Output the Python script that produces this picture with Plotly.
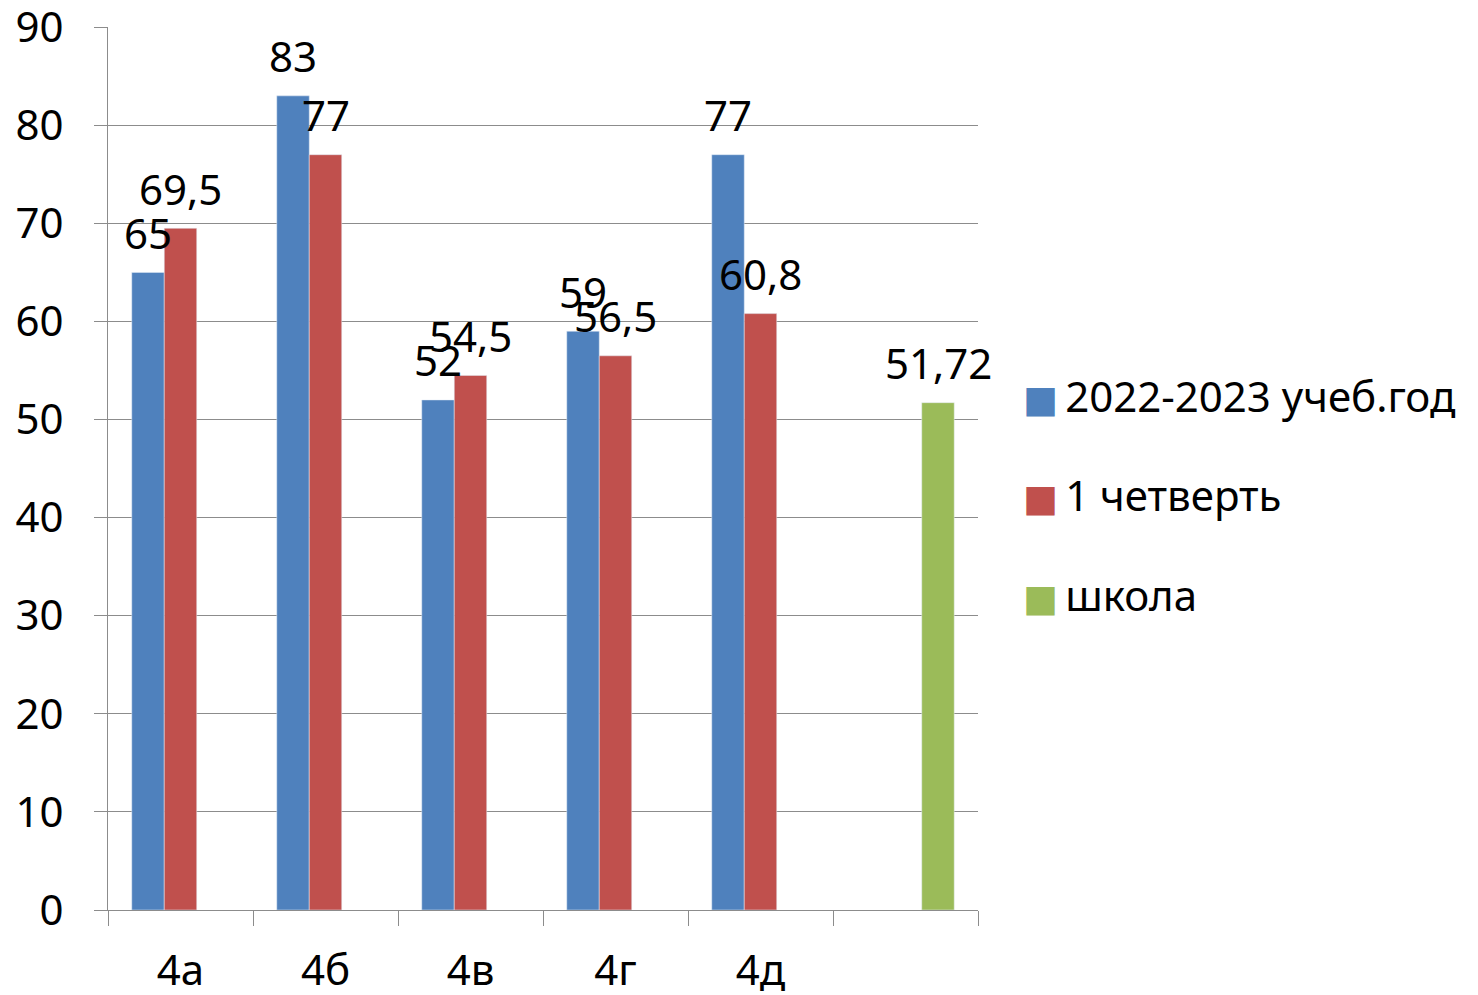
import plotly.graph_objects as go

categories = ["4а", "4б", "4в", "4г", "4д", " "]
series_names = ["2022-2023 учеб.год", "1 четверть", "школа"]
year_values = [65, 83, 52, 59, 77, None]
quarter_values = [69.5, 77, 54.5, 56.5, 60.8, None]
school_values = [None, None, None, None, None, 51.72]
colors = ["#4F81BD", "#C0504D", "#9BBB59"]
y_ticks = [0, 10, 20, 30, 40, 50, 60, 70, 80, 90]

FONT = "Noto Sans"
FS = 42

def fmt(v):
    s = f"{v:g}"
    return s.replace(".", ",")

fig = go.Figure()
all_series = [year_values, quarter_values, school_values]
for name, vals, col in zip(series_names, all_series, colors):
    fig.add_trace(go.Bar(x=categories, y=vals, name=name, marker_color=col,
                         showlegend=False, hoverinfo="skip"))

# legend entries: swatch drawn as a coloured square glyph in the label
for i, (name, col) in enumerate(zip(series_names, colors)):
    label = (f"<span style='font-family:DejaVu Sans;font-size:37px;color:{col}'>■</span>"
             f"\u2009{name}")
    fig.add_trace(go.Scatter(x=[None], y=[None], mode="markers", name=label,
                             legendgroup=f"g{i}",
                             marker=dict(size=1, color="rgba(0,0,0,0)")))

# data labels
shifts = [-32.5, 0, 32.5]
annotations = []
for vals, xs in zip(all_series, shifts):
    for c, v in zip(categories, vals):
        if v is None:
            continue
        annotations.append(dict(x=c, y=v, text=fmt(v), showarrow=False,
                                xref="x", yref="y", xshift=xs, yshift=40,
                                yanchor="middle", xanchor="center",
                                font=dict(family=FONT, size=FS, color="#000000")))

fig.update_layout(
    width=1478, height=995,
    margin=dict(l=100, r=508, t=19, b=93, autoexpand=False),
    paper_bgcolor="white", plot_bgcolor="white",
    barmode="group", bargap=0.328, bargroupgap=0,
    font=dict(family=FONT, size=FS, color="#000000"),
    annotations=annotations,
    legend=dict(x=1.006, xanchor="left", y=0.470, yanchor="middle",
                font=dict(family=FONT, size=FS, color="#000000"),
                traceorder="grouped", tracegroupgap=42),
)
fig.update_xaxes(type="category", range=[-0.5, len(categories) - 0.5],
                 tickson="boundaries", ticks="outside", ticklen=15,
                 tickcolor="#8c8c8c", showline=True, linecolor="#8c8c8c", linewidth=1,
                 showgrid=False, ticklabelstandoff=24, automargin=False,
                 ticklabeloverflow="allow",
                 tickfont=dict(family=FONT, size=FS, color="#000000"))
fig.update_yaxes(range=[0, 90.02], tickvals=y_ticks, ticks="outside", ticklen=13,
                 tickcolor="#8c8c8c", showline=True, linecolor="#8c8c8c", linewidth=1,
                 showgrid=True, gridcolor="#8c8c8c", gridwidth=1, zeroline=False,
                 ticklabelstandoff=22, automargin=False, ticklabeloverflow="allow",
                 tickfont=dict(family=FONT, size=FS, color="#000000"))

fig.write_html("out.html")
